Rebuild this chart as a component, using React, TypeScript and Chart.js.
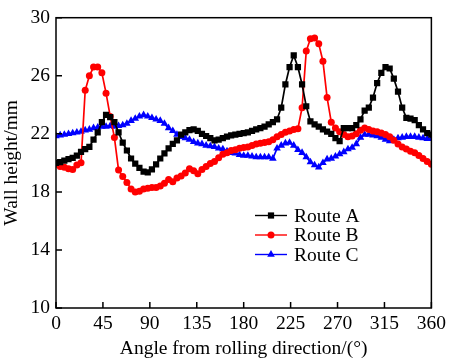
import React, { useEffect, useRef } from "react";
import { Chart, registerables } from "chart.js";

Chart.register(...registerables);

const angles = [
  0, 4, 8, 12, 16, 20, 24, 28, 32, 36, 40, 44, 48, 52, 56, 60, 64, 68, 72, 76,
  80, 84, 88, 92, 96, 100, 104, 108, 112, 116, 120, 124, 128, 132, 136, 140, 144, 148, 152, 156,
  160, 164, 168, 172, 176, 180, 184, 188, 192, 196, 200, 204, 208, 212, 216, 220, 224, 228, 232, 236,
  240, 244, 248, 252, 256, 260, 264, 268, 272, 276, 280, 284, 288, 292, 296, 300, 304, 308, 312, 316,
  320, 324, 328, 332, 336, 340, 344, 348, 352, 356, 360,
];

const routeA = [
  20.0, 20.05, 20.15, 20.25, 20.35, 20.5, 20.75, 20.95, 21.1, 21.6,
  22.1, 22.8, 23.3, 23.15, 22.8, 22.1, 21.4, 20.85, 20.3, 19.95,
  19.65, 19.4, 19.35, 19.55, 19.9, 20.3, 20.65, 21.0, 21.3, 21.55,
  21.95, 22.1, 22.25, 22.3, 22.2, 22.0, 21.85, 21.7, 21.55, 21.6,
  21.7, 21.8, 21.9, 21.95, 22.0, 22.05, 22.1, 22.2, 22.3, 22.4,
  22.5, 22.65, 22.8, 23.0, 23.8, 25.4, 26.6, 27.4, 26.6, 25.4,
  23.9, 22.85, 22.65, 22.5, 22.3, 22.15, 22.0, 21.7, 21.5, 22.4,
  22.4, 22.4, 22.6, 23.0, 23.6, 23.8, 24.5, 25.5, 26.2, 26.6,
  26.5, 25.8, 24.9, 23.8, 23.1, 23.05, 22.95, 22.6, 22.3, 22.05,
  21.95,
];

const routeB = [
  19.9, 19.75, 19.7, 19.6, 19.55, 19.85, 20.0, 25.0, 26.0, 26.6,
  26.6, 26.2, 24.8, 23.2, 21.75, 19.5, 19.06, 18.65, 18.2, 18.0,
  18.05, 18.2, 18.25, 18.3, 18.3, 18.4, 18.6, 18.85, 18.7, 18.95,
  19.1, 19.3, 19.6, 19.45, 19.25, 19.55, 19.75, 19.95, 20.1, 20.35,
  20.6, 20.7, 20.85, 20.9, 21.0, 21.05, 21.1, 21.2, 21.3, 21.35,
  21.4, 21.45, 21.6, 21.8, 21.95, 22.1, 22.2, 22.3, 22.35, 23.8,
  27.7, 28.55, 28.6, 28.2, 27.0, 24.5, 22.8, 22.4, 22.15, 21.95,
  21.8, 21.85, 22.0, 22.25, 22.4, 22.3, 22.2, 22.15, 22.05, 21.95,
  21.8, 21.55, 21.3, 21.1, 20.95, 20.8, 20.7, 20.5, 20.3, 20.1,
  19.9,
];

const routeC = [
  21.85, 21.9, 21.95, 22.0, 22.05, 22.1, 22.15, 22.25, 22.3, 22.4,
  22.45, 22.5, 22.5, 22.55, 22.5, 22.55, 22.6, 22.7, 22.9, 23.05,
  23.2, 23.3, 23.2, 23.1, 23.0, 22.9, 22.7, 22.4, 22.2, 21.95,
  21.8, 21.7, 21.6, 21.45, 21.35, 21.3, 21.2, 21.15, 21.1, 21.0,
  20.95, 20.8, 20.7, 20.65, 20.55, 20.5, 20.5, 20.45, 20.4, 20.4,
  20.4, 20.4, 20.3, 21.0, 21.2, 21.35, 21.4, 21.2, 20.9, 20.7,
  20.4, 20.05, 19.85, 19.7, 20.0, 20.25, 20.3, 20.45, 20.6, 20.75,
  20.95, 21.05, 21.3, 21.75, 21.95, 21.95, 21.9, 21.85, 21.75, 21.6,
  21.5, 21.6, 21.7, 21.75, 21.8, 21.8, 21.8, 21.75, 21.7, 21.65,
  21.65,
];

const seriesNames = ["Route A", "Route B", "Route C"];
const seriesColors = ["#000000", "#ff0000", "#0000ff"];
const seriesMarkers = ["rect", "circle", "triangle"];
const seriesRadius = [4.4, 3.5, 4.4];
const xTicks = [0, 45, 90, 135, 180, 225, 270, 315, 360];
const yTicks = [10, 14, 18, 22, 26, 30];

const FONT = "'Liberation Serif', 'Times New Roman', serif";

function drawMarker(ctx: CanvasRenderingContext2D, kind: string, x: number, y: number, r: number, color: string) {
  ctx.save();
  ctx.fillStyle = color;
  ctx.beginPath();
  if (kind === "rect") {
    const s = r * Math.SQRT1_2;
    ctx.rect(x - s, y - s, 2 * s, 2 * s);
  } else if (kind === "circle") {
    ctx.arc(x, y, r, 0, Math.PI * 2);
  } else {
    const h = r * 1.5;
    const w = r * Math.sqrt(3);
    ctx.moveTo(x, y - r);
    ctx.lineTo(x - w / 2, y - r + h);
    ctx.lineTo(x + w / 2, y - r + h);
    ctx.closePath();
  }
  ctx.fill();
  ctx.restore();
}

const framePlugin = {
  id: "frameTicksLegend",
  afterDraw(chart: any) {
    const { ctx, chartArea } = chart;
    const { left, right, top, bottom } = chartArea;
    const xs = chart.scales.x;
    const ys = chart.scales.y;
    ctx.save();
    ctx.strokeStyle = "#000";
    ctx.lineWidth = 1.5;
    ctx.strokeRect(left, top, right - left, bottom - top);
    ctx.beginPath();
    xTicks.forEach((t) => {
      const px = xs.getPixelForValue(t);
      ctx.moveTo(px, bottom);
      ctx.lineTo(px, bottom - 6);
    });
    yTicks.forEach((t) => {
      const py = ys.getPixelForValue(t);
      ctx.moveTo(left, py);
      ctx.lineTo(left + 6, py);
    });
    ctx.stroke();

    // legend
    const lx0 = 255;
    const lx1 = 287;
    const rowY = [215.5, 235, 254.5];
    chart.data.datasets.forEach((ds: any, i: number) => {
      const y = rowY[i];
      ctx.strokeStyle = ds.borderColor;
      ctx.lineWidth = 1.4;
      ctx.beginPath();
      ctx.moveTo(lx0, y);
      ctx.lineTo(lx1, y);
      ctx.stroke();
      drawMarker(ctx, ds.pointStyle, (lx0 + lx1) / 2, y, ds.pointRadius, ds.borderColor);
      ctx.fillStyle = "#000";
      ctx.font = `19.5px ${FONT}`;
      ctx.textBaseline = "middle";
      ctx.textAlign = "left";
      ctx.fillText(ds.label, 294, y + 1);
    });
    ctx.restore();
  },
};

export default function App() {
  const canvasRef = useRef<HTMLCanvasElement | null>(null);

  useEffect(() => {
    const canvas = canvasRef.current;
    if (!canvas) return;
    const seriesData = [routeA, routeB, routeC];
    const chart = new Chart(canvas, {
      type: "line",
      data: {
        datasets: seriesData.map((vals, i) => ({
          label: seriesNames[i],
          data: vals.map((v, j) => ({ x: angles[j], y: v })),
          borderColor: seriesColors[i],
          backgroundColor: seriesColors[i],
          pointBackgroundColor: seriesColors[i],
          pointBorderColor: seriesColors[i],
          pointStyle: seriesMarkers[i] as any,
          pointRadius: seriesRadius[i],
          pointBorderWidth: 0,
          borderWidth: 1.7,
          tension: 0,
          fill: false,
        })),
      },
      options: {
        animation: false,
        responsive: false,
        devicePixelRatio: 1,
        layout: { padding: { top: 5, right: 17, left: 0, bottom: 0 } },
        plugins: {
          legend: { display: false },
          tooltip: { enabled: false },
        },
        scales: {
          x: {
            type: "linear",
            min: 0,
            max: 360,
            afterFit: (s: any) => {
              s.height = 53;
            },
            afterBuildTicks: (s: any) => {
              s.ticks = xTicks.map((v) => ({ value: v }));
            },
            grid: { display: false, drawTicks: false },
            border: { display: false },
            ticks: {
              color: "#000",
              padding: 4,
              maxRotation: 0,
              autoSkip: false,
              font: { family: FONT, size: 19.5 },
            },
            title: {
              display: true,
              text: "Angle from rolling direction/(°)",
              color: "#000",
              padding: { top: 0, bottom: 0 },
              font: { family: FONT, size: 19.5 },
            },
          },
          y: {
            type: "linear",
            min: 10,
            max: 30,
            afterFit: (s: any) => {
              s.width = 56;
            },
            afterBuildTicks: (s: any) => {
              s.ticks = yTicks.map((v) => ({ value: v }));
            },
            grid: { display: false, drawTicks: false },
            border: { display: false },
            ticks: {
              color: "#000",
              padding: 6,
              autoSkip: false,
              font: { family: FONT, size: 19.5 },
            },
            title: {
              display: true,
              text: "Wall height/mm",
              color: "#000",
              padding: { top: 0, bottom: 0 },
              font: { family: FONT, size: 19.5 },
            },
          },
        },
      },
      plugins: [framePlugin],
    });
    return () => chart.destroy();
  }, []);

  return (
    <div style={{ position: "fixed", left: 0, top: 0, width: 450, height: 361, background: "#fff" }}>
      <canvas ref={canvasRef} width={450} height={361} />
    </div>
  );
}
